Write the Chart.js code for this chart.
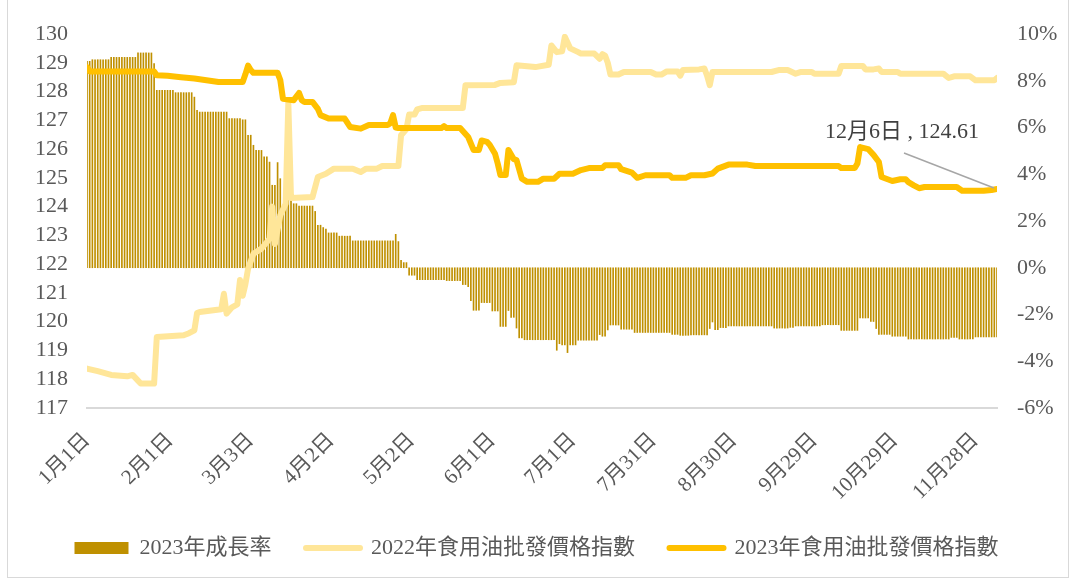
<!DOCTYPE html>
<html>
<head>
<meta charset="utf-8">
<script src="https://cdn.jsdelivr.net/npm/chart.js@4.4.1/dist/chart.umd.min.js"></script>
<style>
  body { margin: 0; background: #fff; }
  #wrap { position: relative; width: 1073px; height: 585px; }
  #frame { position: absolute; left: 7px; top: -1px; width: 1062px; height: 579px; border: 1px solid #D9D9D9; box-sizing: border-box; pointer-events: none; }
</style>
</head>
<body>
<div id="wrap"><canvas id="chart" width="1073" height="585"></canvas><div id="frame"></div></div>
<script>
// day index 0 = 1月1日, last day 339 = 12月6日
const lastDay = 339;
const tickDays = [0, 31, 61, 91, 121, 151, 181, 211, 241, 271, 301, 331];
const tickLabels = ['1月1日', '2月1日', '3月3日', '4月2日', '5月2日', '6月1日', '7月1日', '7月31日', '8月30日', '9月29日', '10月29日', '11月28日'];
const seriesNames = ['2023年成長率', '2022年食用油批發價格指數', '2023年食用油批發價格指數'];

// [first day, growth %] - value holds until the next entry
const growthRuns = [[0,8.83],[2,8.9],[9,9.0],[19,9.19],[25,8.73],[26,7.59],[33,7.49],[40,7.3],[41,6.73],[42,6.66],[53,6.38],[58,6.33],[60,5.67],[62,5.24],[63,5.02],[66,4.74],[68,4.52],[69,3.53],[71,4.5],[72,3.81],[73,2.38],[74,3.1],[75,3.31],[77,2.74],[79,2.64],[85,2.41],[86,1.82],[88,1.72],[89,1.65],[90,1.49],[94,1.35],[99,1.15],[115,1.43],[116,1.12],[117,0.32],[118,0.22],[120,-0.32],[123,-0.51],[134,-0.55],[140,-0.72],[142,-0.81],[143,-1.41],[144,-1.82],[147,-1.49],[151,-1.85],[154,-2.51],[157,-1.83],[158,-2.12],[160,-2.58],[161,-3.0],[163,-3.08],[175,-3.53],[176,-3.25],[177,-3.3],[179,-3.63],[180,-3.3],[183,-3.1],[191,-2.86],[192,-2.93],[194,-2.66],[195,-2.45],[199,-2.63],[204,-2.77],[218,-2.85],[221,-2.89],[225,-2.87],[232,-2.6],[233,-2.32],[234,-2.65],[236,-2.56],[239,-2.49],[256,-2.58],[262,-2.55],[264,-2.49],[274,-2.44],[281,-2.68],[288,-2.15],[292,-2.3],[294,-2.6],[295,-2.85],[300,-2.93],[306,-3.05],[322,-2.98],[325,-3.05],[331,-2.96]];

// [day, index] where the 2022 line changes
const idx2022Points = [[0,118.37],[4,118.28],[9,118.15],[15,118.1],[17,118.15],[19,117.95],[20,117.85],[25,117.85],[26,119.47],[36,119.53],[38,119.6],[40,119.7],[41,120.3],[42,120.34],[50,120.43],[51,120.97],[52,120.28],[54,120.5],[56,120.6],[57,121.45],[58,120.9],[59,121.3],[60,121.84],[62,122.36],[65,122.54],[68,122.88],[69,124.0],[70,122.7],[72,123.7],[74,124.1],[75,127.6],[76,124.3],[84,124.33],[86,125.03],[89,125.14],[92,125.32],[99,125.32],[102,125.2],[104,125.32],[108,125.32],[110,125.41],[116,125.41],[117,126.48],[119,126.7],[120,127.2],[122,127.2],[123,127.38],[125,127.43],[140,127.43],[141,128.22],[152,128.23],[154,128.3],[159,128.32],[160,128.91],[167,128.85],[172,128.93],[173,129.6],[175,129.37],[177,129.4],[178,129.9],[180,129.5],[183,129.37],[184,129.32],[189,129.32],[191,129.14],[192,129.3],[193,129.25],[194,129.0],[195,128.59],[198,128.59],[200,128.68],[210,128.68],[212,128.59],[214,128.59],[216,128.7],[220,128.7],[221,128.55],[222,128.75],[228,128.77],[230,128.8],[231,128.55],[232,128.22],[233,128.68],[255,128.68],[258,128.75],[261,128.75],[264,128.62],[266,128.68],[270,128.68],[271,128.62],[280,128.62],[281,128.89],[289,128.89],[290,128.77],[293,128.77],[295,128.8],[296,128.68],[302,128.68],[303,128.62],[319,128.62],[321,128.47],[323,128.53],[329,128.53],[331,128.39],[338,128.39],[339,128.47]];

// [day, index] where the 2023 line changes
const idx2023Points = [[0,128.85],[1,128.7],[25,128.7],[26,128.57],[30,128.55],[35,128.5],[40,128.45],[49,128.33],[58,128.33],[59,128.6],[60,128.9],[61,128.75],[62,128.65],[71,128.65],[72,128.4],[73,127.75],[77,127.7],[79,127.95],[80,127.7],[81,127.64],[84,127.64],[86,127.4],[87,127.18],[90,127.06],[96,127.06],[98,126.77],[102,126.71],[105,126.84],[112,126.84],[113,126.9],[114,127.18],[115,126.75],[116,126.73],[132,126.73],[133,126.8],[134,126.73],[139,126.73],[142,126.42],[144,125.97],[146,125.97],[147,126.3],[149,126.25],[150,126.15],[152,125.84],[153,125.5],[154,125.1],[156,125.1],[157,125.97],[159,125.65],[160,125.62],[162,124.97],[164,124.86],[168,124.86],[170,124.97],[174,124.97],[176,125.14],[181,125.14],[184,125.27],[187,125.34],[192,125.34],[193,125.44],[198,125.44],[199,125.3],[203,125.18],[205,125.0],[208,125.09],[217,125.09],[218,125.0],[223,125.0],[225,125.09],[230,125.09],[233,125.15],[235,125.32],[239,125.46],[246,125.46],[249,125.41],[280,125.41],[281,125.34],[286,125.34],[287,125.5],[288,126.07],[291,126.0],[293,125.8],[295,125.55],[296,125.03],[300,124.89],[303,124.95],[305,124.95],[306,124.85],[308,124.74],[310,124.64],[312,124.68],[324,124.68],[326,124.55],[334,124.55],[337,124.58],[339,124.61]];

const FONT = "'Liberation Serif', 'Noto Sans CJK TC', serif";
const TEXT = '#595959';

function expandRuns(runs) {
    const out = [];
    let r = 0;
    for (let d = 0; d <= lastDay; d++) {
        while (r + 1 < runs.length && runs[r + 1][0] <= d) r++;
        out.push({ x: d, y: runs[r][1] });
    }
    return out;
}

const toXY = pts => pts.map(p => ({ x: p[0], y: p[1] }));

const endLabel = {
    id: 'endLabel',
    afterDatasetsDraw(chart) {
        const { ctx, scales } = chart;
        const last = idx2023Points[idx2023Points.length - 1];
        const px = scales.x.getPixelForValue(last[0]);
        const py = scales.y.getPixelForValue(last[1]);
        ctx.save();
        ctx.strokeStyle = '#A6A6A6';
        ctx.lineWidth = 1.5;
        ctx.beginPath();
        ctx.moveTo(px - 3, py - 1);
        ctx.lineTo(px - 93, py - 36);
        ctx.stroke();
        ctx.fillStyle = '#404040';
        ctx.font = "22px " + FONT;
        ctx.textAlign = 'center';
        ctx.textBaseline = 'middle';
        ctx.fillText('12月6日 , ' + last[1].toFixed(2), px - 95, py - 57);
        ctx.restore();
    }
};

new Chart(document.getElementById('chart'), {
    type: 'bar',
    data: {
        datasets: [
            {
                type: 'bar',
                label: seriesNames[0],
                data: expandRuns(growthRuns),
                yAxisID: 'y2',
                backgroundColor: '#BF9000',
                barThickness: 1,
                order: 3
            },
            {
                type: 'line',
                label: seriesNames[1],
                data: toXY(idx2022Points),
                yAxisID: 'y',
                borderColor: '#FFE699',
                borderWidth: 6,
                borderCapStyle: 'round',
                borderJoinStyle: 'round',
                pointRadius: 0,
                tension: 0,
                order: 2
            },
            {
                type: 'line',
                label: seriesNames[2],
                data: toXY(idx2023Points),
                yAxisID: 'y',
                borderColor: '#FFC000',
                borderWidth: 6,
                borderCapStyle: 'round',
                borderJoinStyle: 'round',
                pointRadius: 0,
                tension: 0,
                order: 1
            }
        ]
    },
    options: {
        responsive: false,
        animation: false,
        layout: { padding: { top: 34, bottom: 16, left: 0, right: 0 } },
        plugins: {
            tooltip: { enabled: false },
            legend: {
                position: 'bottom',
                labels: {
                    usePointStyle: true,
                    pointStyleWidth: 54,
                    boxHeight: 12,
                    padding: 18,
                    color: TEXT,
                    font: { family: FONT, size: 22 },
                    generateLabels: () => [
                        { text: seriesNames[0] + '   ', fillStyle: '#BF9000', strokeStyle: '#BF9000', lineWidth: 0, pointStyle: 'rect', fontColor: TEXT, datasetIndex: 0 },
                        { text: seriesNames[1] + '   ', fillStyle: '#FFE699', strokeStyle: '#FFE699', lineWidth: 6, lineCap: 'round', pointStyle: 'line', fontColor: TEXT, datasetIndex: 1 },
                        { text: seriesNames[2], fillStyle: '#FFC000', strokeStyle: '#FFC000', lineWidth: 6, lineCap: 'round', pointStyle: 'line', fontColor: TEXT, datasetIndex: 2 }
                    ]
                }
            }
        },
        scales: {
            x: {
                type: 'linear',
                min: 0,
                max: lastDay,
                offset: false,
                grid: { display: false, drawTicks: false },
                border: { display: true, color: '#D9D9D9', width: 2 },
                afterBuildTicks: scale => { scale.ticks = tickDays.map(v => ({ value: v })); },
                afterFit: scale => { scale.height = 111; },
                ticks: {
                    autoSkip: false,
                    maxRotation: 45,
                    minRotation: 45,
                    padding: 20,
                    color: TEXT,
                    font: { family: FONT, size: 21 },
                    callback: (v) => tickLabels[tickDays.indexOf(v)]
                }
            },
            y: {
                position: 'left',
                min: 117,
                max: 130,
                grid: { display: false, drawTicks: false },
                border: { display: false },
                afterFit: scale => { scale.width = 87; },
                ticks: {
                    stepSize: 1,
                    autoSkip: false,
                    padding: 19,
                    color: TEXT,
                    font: { family: FONT, size: 22 }
                }
            },
            y2: {
                position: 'right',
                min: -6,
                max: 10,
                grid: { display: false, drawTicks: false },
                border: { display: false },
                afterFit: scale => { scale.width = 76; },
                ticks: {
                    stepSize: 2,
                    autoSkip: false,
                    padding: 20,
                    color: TEXT,
                    font: { family: FONT, size: 22 },
                    callback: v => v + '%'
                }
            }
        }
    },
    plugins: [endLabel]
});
</script>
</body>
</html>
